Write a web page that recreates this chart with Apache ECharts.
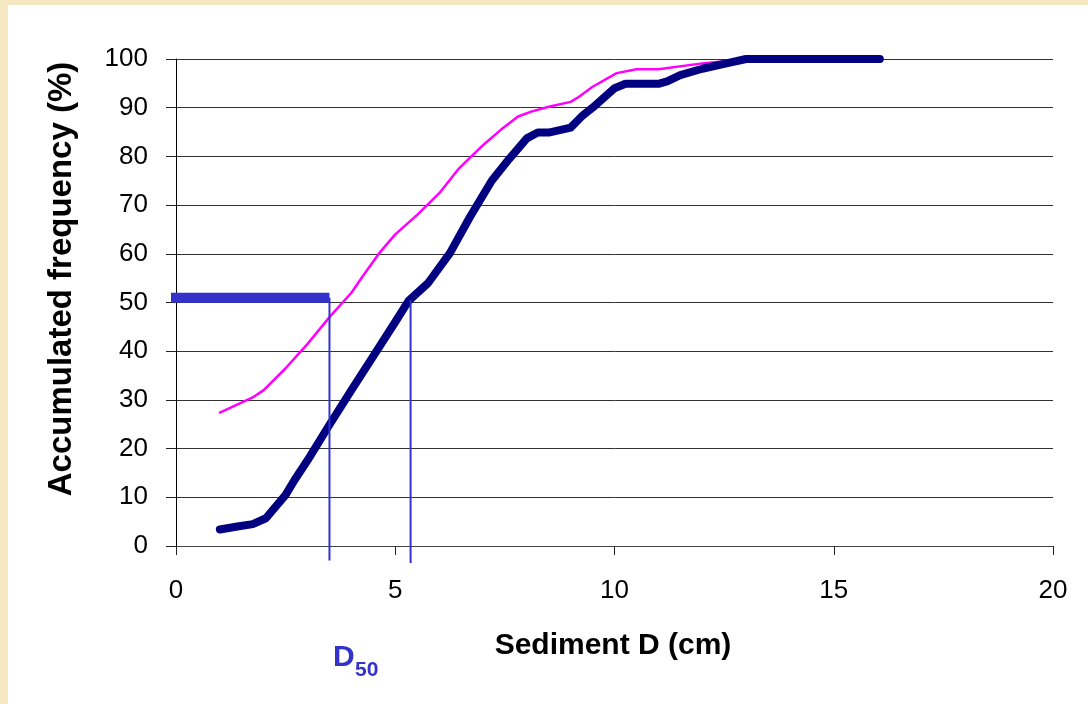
<!DOCTYPE html>
<html>
<head>
<meta charset="utf-8">
<style>
html,body{margin:0;padding:0;background:#F6E8C3;}
#c{width:1088px;height:704px;}
</style>
<script src="https://cdn.jsdelivr.net/npm/echarts@6/dist/echarts.min.js"></script>
</head>
<body>
<div id="c"></div>
<script>
// Sediment size (cm) vs accumulated frequency (%)
const seriesA_x = [1.0, 1.4, 1.75, 2.05, 2.5, 2.7, 3.0, 3.5, 4.0, 4.5, 5.0, 5.3, 5.75, 6.25, 6.7, 7.2, 7.6, 8.0, 8.25, 8.5, 9.0, 9.25, 9.5, 10.0, 10.25, 11.0, 11.2, 11.5, 12.0, 12.5, 13.0, 14.0, 15.0, 16.05];
const seriesA_y = [3.4, 4.0, 4.5, 5.7, 10.5, 13.5, 17.6, 24.9, 32.0, 39.0, 46.0, 50.3, 54.0, 60.2, 67.5, 75.0, 79.5, 83.7, 84.9, 84.9, 85.9, 88.2, 90.0, 94.0, 94.9, 94.9, 95.4, 96.7, 98.0, 99.0, 100, 100, 100, 100];
const seriesB_x = [1.0, 1.75, 2.0, 2.5, 3.0, 3.5, 4.0, 4.25, 4.65, 5.0, 5.5, 6.0, 6.45, 7.0, 7.4, 7.8, 8.1, 8.5, 9.0, 9.2, 9.5, 10.05, 10.5, 11.0, 12.0, 13.0, 14.0, 15.0, 16.05];
const seriesB_y = [27.4, 30.5, 32.0, 36.5, 41.5, 47.0, 52.0, 55.3, 60.3, 64.0, 68.0, 72.4, 77.5, 82.3, 85.4, 88.2, 89.2, 90.2, 91.2, 92.3, 94.3, 97.1, 97.9, 97.9, 99.1, 100, 100, 100, 100];
// D50 guide lines
const d50Level = 51;
const d50Bar_x = [-0.18, 3.5];
const d50A = 3.5, d50B = 5.35;
const d50Bottom = [-3.0, -3.5];
const xTicks = {min: 0, max: 20, interval: 5};
const yTicks = {min: 0, max: 100, interval: 10};

const zip = (xs, ys) => xs.map((x, i) => [x, ys[i]]);
const FONT = '"Liberation Sans", Arial, sans-serif';
const D50C = '#3333CC';

const chart = echarts.init(document.getElementById('c'), null, {renderer: 'canvas'});
chart.setOption({
  backgroundColor: '#F6E8C3',
  animation: false,
  grid: {left: 176, right: 35, top: 59, bottom: 158, containLabel: false},
  graphic: [
    {type: 'rect', z: -10, shape: {x: 8, y: 5, width: 1080, height: 699}, style: {fill: '#ffffff'}},
    {type: 'text', x: 62, y: 279, rotation: Math.PI / 2,
      style: {text: 'Accumulated frequency (%)', font: 'bold 33px ' + FONT, fill: '#000', align: 'center', verticalAlign: 'middle'}},
    {type: 'text', x: 613, y: 646,
      style: {text: 'Sediment D (cm)', font: 'bold 30px ' + FONT, fill: '#000', align: 'center', verticalAlign: 'middle'}},
    {type: 'text', x: 333, y: 658,
      style: {text: 'D', font: 'bold 30px ' + FONT, fill: D50C, align: 'left', verticalAlign: 'middle'}},
    {type: 'text', x: 355, y: 670,
      style: {text: '50', font: 'bold 21px ' + FONT, fill: D50C, align: 'left', verticalAlign: 'middle'}}
  ],
  xAxis: {
    type: 'value', min: xTicks.min, max: xTicks.max, interval: xTicks.interval,
    axisLine: {show: true, onZero: false, lineStyle: {color: '#444', width: 1}},
    axisTick: {show: true, inside: false, length: 9, lineStyle: {color: '#222'}},
    splitLine: {show: false},
    axisLabel: {margin: 32, color: '#000', fontSize: 26, fontFamily: FONT}
  },
  yAxis: {
    type: 'value', min: yTicks.min, max: yTicks.max, interval: yTicks.interval,
    axisLine: {show: true, lineStyle: {color: '#000', width: 1}},
    axisTick: {show: true, inside: false, length: 10, lineStyle: {color: '#222'}},
    splitLine: {show: true, lineStyle: {color: '#333', width: 1}},
    axisLabel: {margin: 28, color: '#000', fontSize: 26, fontFamily: FONT}
  },
  series: [
    {type: 'line', name: 'B', data: zip(seriesB_x, seriesB_y), showSymbol: false, z: 3,
      lineStyle: {color: '#FF00FF', width: 2.5, join: 'round', cap: 'round'}},
    {type: 'line', name: 'A', data: zip(seriesA_x, seriesA_y), showSymbol: false, z: 4,
      lineStyle: {color: '#000080', width: 8, join: 'round', cap: 'round'}},
    {type: 'line', name: 'D50 level', data: d50Bar_x.map(x => [x, d50Level]), showSymbol: false, clip: false, z: 5,
      lineStyle: {color: D50C, width: 10, cap: 'butt'}},
    {type: 'line', name: 'D50 A', data: [[d50A, d50Level], [d50A, d50Bottom[0]]], showSymbol: false, clip: false, z: 5,
      lineStyle: {color: D50C, width: 2, cap: 'butt'}},
    {type: 'line', name: 'D50 B', data: [[d50B, d50Level - 0.5], [d50B, d50Bottom[1]]], showSymbol: false, clip: false, z: 5,
      lineStyle: {color: D50C, width: 2, cap: 'butt'}}
  ]
});
</script>
</body>
</html>
